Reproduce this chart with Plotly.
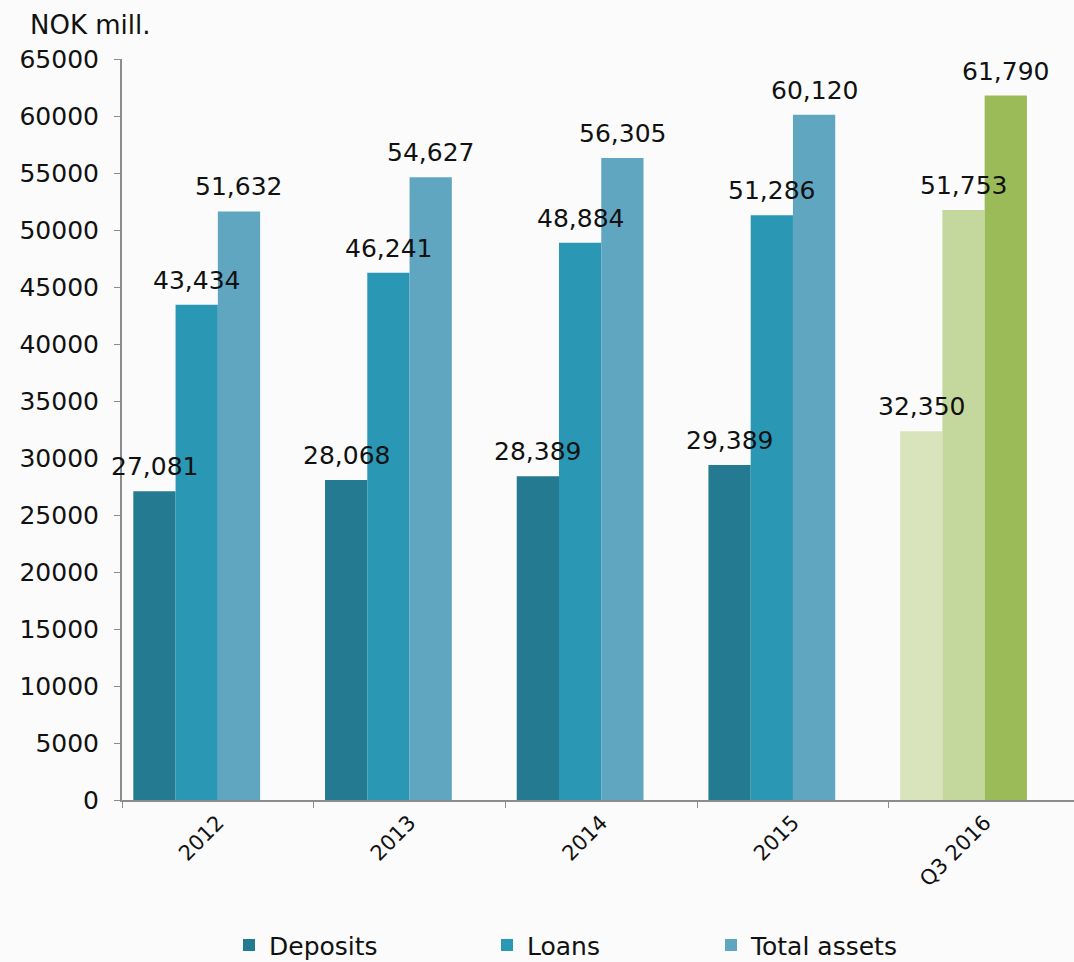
import plotly.graph_objects as go

categories = ["2012", "2013", "2014", "2015", "Q3 2016"]
deposits = [27081, 28068, 28389, 29389, 32350]
loans = [43434, 46241, 48884, 51286, 51753]
total_assets = [51632, 54627, 56305, 60120, 61790]
series_names = ["Deposits", "Loans", "Total assets"]
y_ticks = list(range(0, 65001, 5000))

colors = [
    ["#247a91"] * 4 + ["#d9e4bd"],
    ["#2a97b5"] * 4 + ["#c4d79c"],
    ["#60a6c1"] * 4 + ["#9bbb59"],
]

FONT = "DejaVu Sans, Verdana, sans-serif"
GAP = 0.118
NSLOT = 4
slot_w = (1 - GAP) / NSLOT

fig = go.Figure()
series = [deposits, loans, total_assets]
legend_ids = ["legend", "legend2", "legend3"]
for k, (name, vals) in enumerate(zip(series_names, series)):
    fig.add_trace(go.Bar(
        x=categories, y=vals, name=name,
        marker=dict(color=colors[k], line=dict(width=0)),
        legend=legend_ids[k],
    ))
# empty fourth slot (as in the source chart layout)
fig.add_trace(go.Bar(x=categories, y=[None] * 5, showlegend=False, hoverinfo="skip"))

annotations = []
for k, vals in enumerate(series):
    off = -0.5 + GAP / 2 + slot_w * (k + 0.5)
    for i, v in enumerate(vals):
        annotations.append(dict(
            x=i + off, y=v, xref="x", yref="y", text=f"{v:,}",
            showarrow=False, yanchor="bottom", yshift=8,
            font=dict(family=FONT, size=25, color="#111"),
        ))
annotations.append(dict(
    x=-122 / 952 + 28 / 952, y=1, xref="paper", yref="paper", yshift=17,
    xanchor="left", yanchor="bottom", text="NOK mill.", showarrow=False,
    font=dict(family=FONT, size=26, color="#111"),
))

axis_col = "#8c8c8c"
leg_common = dict(orientation="h", yanchor="middle", y=-0.196, xanchor="left",
                  font=dict(family=FONT, size=25, color="#111"),
                  bgcolor="rgba(0,0,0,0)", itemwidth=30)
fig.update_layout(
    width=1074, height=962,
    margin=dict(l=122, r=0, t=59, b=162, autoexpand=False),
    barmode="group", bargap=GAP, bargroupgap=0,
    paper_bgcolor="#fbfbfb", plot_bgcolor="#fbfbfb",
    annotations=annotations,
    legend=dict(leg_common, x=(229 - 122) / 952),
    legend2=dict(leg_common, x=(487 - 122) / 952),
    legend3=dict(leg_common, x=(711 - 122) / 952),
    xaxis=dict(
        type="category", range=[-0.5, 4.466], tickson="boundaries",
        ticks="outside", ticklen=6, tickcolor=axis_col, showline=True,
        linecolor=axis_col, linewidth=2, tickangle=-45, showgrid=False,
        automargin=False,
        tickfont=dict(family=FONT, size=21, color="#111"),
    ),
    yaxis=dict(
        range=[0, 65000], tickvals=y_ticks, tickformat="d", ticks="outside",
        ticklen=6, tickcolor=axis_col, showline=True, linecolor=axis_col,
        linewidth=2, showgrid=False, zeroline=False, automargin=False,
        ticklabelstandoff=10,
        tickfont=dict(family=FONT, size=25, color="#111"),
    ),
)
fig.write_html("out.html")
